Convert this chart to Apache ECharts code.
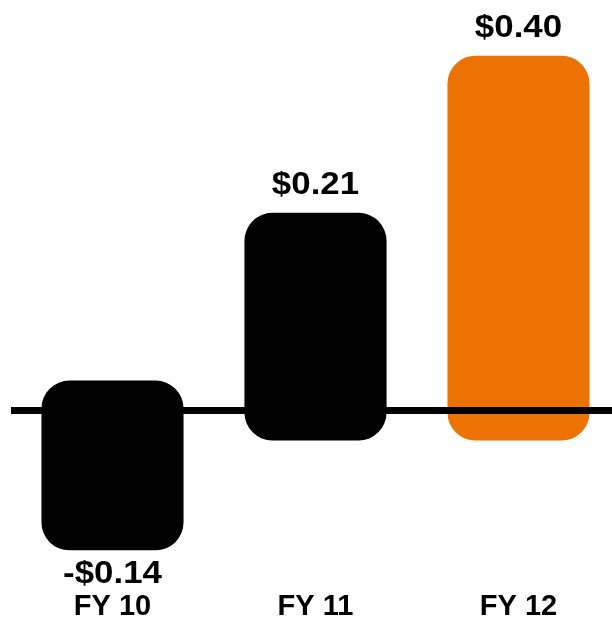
<!DOCTYPE html>
<html>
<head>
<meta charset="utf-8">
<script src="https://cdn.jsdelivr.net/npm/echarts@6/dist/echarts.min.js"></script>
<style>
  html, body { margin: 0; padding: 0; background: #fff; }
  #eps_chart { width: 612px; height: 622px; }
</style>
</head>
<body>
<div id="eps_chart"></div>
<script>
var years = ['FY 10', 'FY 11', 'FY 12'];
var eps = [-0.14, 0.21, 0.40];

var highlightIndex = 2;   // the last year is drawn in orange
var barPad = 24;          // bar runs a bit past its value
var barOver = 30;         // and a bit past the zero line

var eps_dom = document.getElementById('eps_chart');
var eps_Chart = echarts.init(eps_dom, null, {
  renderer: 'canvas',
  useDirtyRect: false
});

function fmtEps(v) {
  return (v < 0 ? '-$' : '$') + Math.abs(v).toFixed(2);
}

var eps_option = {
  animation: false,
  grid: {
    left: 11,
    width: 609,
    top: -3,
    bottom: 46,
    outerBoundsMode: 'none'
  },
  xAxis: {
    type: 'category',
    data: years,
    axisLine: { show: false, onZero: false },
    axisTick: { show: false },
    axisLabel: {
      margin: 16,
      color: '#000',
      fontSize: 29,
      fontWeight: 'bold',
      fontFamily: 'Liberation Sans'
    }
  },
  yAxis: {
    type: 'value',
    min: -0.2,
    max: 0.5,
    show: false,
    splitLine: { show: false }
  },
  series: [
    {
      type: 'custom',
      data: eps.map(function (v, i) { return [i, v]; }),
      encode: { x: 0, y: 1 },
      renderItem: function (params, api) {
        var i = api.value(0);
        var v = api.value(1);
        var end = api.coord([i, v]);
        var zero = api.coord([i, 0]);
        var w = api.size([1, 0])[0] * 0.7;
        var top, bottom;
        if (v >= 0) {
          top = end[1] - barPad;
          bottom = zero[1] + barOver;
        } else {
          top = zero[1] - barOver;
          bottom = end[1] + barPad;
        }
        return {
          type: 'group',
          children: [
            {
              type: 'rect',
              shape: { x: end[0] - w / 2, y: top, width: w, height: bottom - top, r: 28 },
              style: { fill: params.dataIndex === highlightIndex ? '#ED7204' : '#000' }
            },
            {
              type: 'text',
              x: end[0],
              y: v >= 0 ? top - 12 : bottom + 8,
              scaleX: 1.09,
              style: {
                text: fmtEps(v),
                x: 0,
                y: 0,
                align: 'center',
                verticalAlign: v >= 0 ? 'bottom' : 'top',
                fontSize: 32,
                fontWeight: 'bold',
                fontFamily: 'Liberation Sans',
                fill: '#000'
              }
            }
          ]
        };
      },
      markLine: {
        silent: true,
        symbol: 'none',
        label: { show: false },
        lineStyle: { color: '#000', width: 7, type: 'solid' },
        data: [{ yAxis: 0 }]
      }
    }
  ]
};

if (eps_option && typeof eps_option === 'object') {
  eps_Chart.setOption(eps_option);
}

window.addEventListener('resize', eps_Chart.resize);
</script>
</body>
</html>
